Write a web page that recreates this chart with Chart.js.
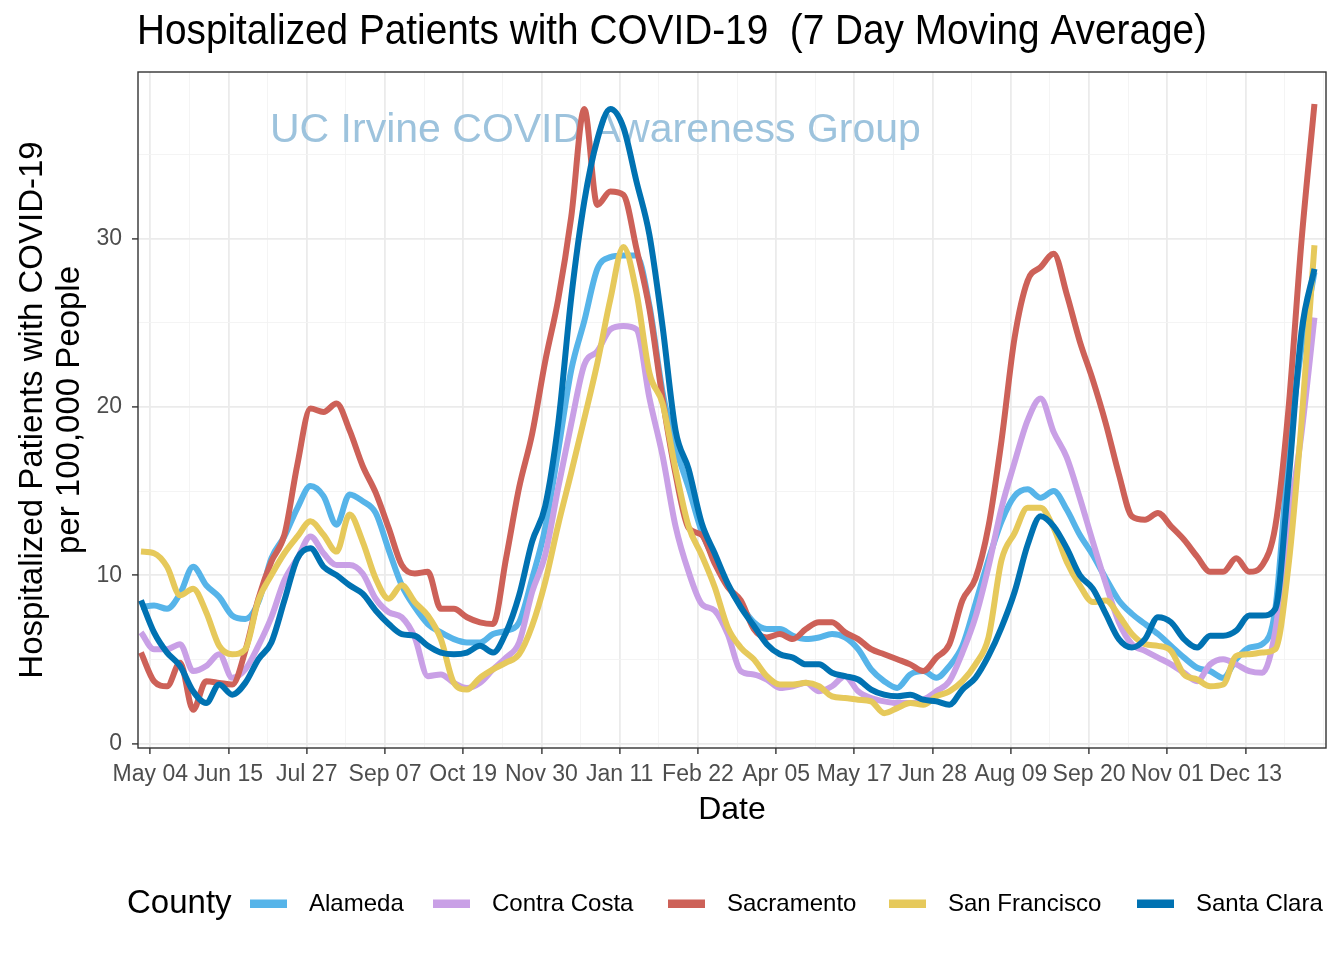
<!DOCTYPE html>
<html><head><meta charset="utf-8">
<script src="https://cdn.jsdelivr.net/npm/chart.js@4/dist/chart.umd.min.js"></script>
<style>html,body{margin:0;padding:0;background:#fff;}#wrap{width:1344px;height:960px;}</style>
</head><body><div id="wrap"><canvas id="c" width="1344" height="960"></canvas></div>
<script>
// days since 2020-05-04 (weekly samples)
const dayOffsets = [-5,2,9,16,23,30,37,44,51,58,65,72,79,86,93,100,107,114,121,128,135,142,149,156,163,170,177,184,191,198,205,212,219,226,233,240,247,254,261,268,275,282,289,296,303,310,317,324,331,338,345,352,359,366,373,380,387,394,401,408,415,422,429,436,443,450,457,464,471,478,485,492,499,506,513,520,527,534,541,548,555,562,569,576,583,590,597,604,611,618,625];

const counties = ["Alameda","Contra Costa","Sacramento","San Francisco","Santa Clara"];

const alameda = [8.1,8.2,8.0,8.9,10.5,9.4,8.7,7.6,7.4,8.4,11.0,12.3,14.0,15.3,14.7,13.0,14.8,14.4,13.7,11.5,9.4,8.1,7.1,6.6,6.2,
 6.0,6.0,6.5,6.7,7.2,9.8,12.8,17.4,22.2,25.1,28.2,28.9,29.0,29.0,26.0,20.9,17.6,15.2,12.6,10.9,9.4,8.2,7.2,6.8,
 6.8,6.4,6.2,6.3,6.5,6.3,5.6,4.4,3.7,3.3,4.1,4.3,3.9,4.6,5.8,8.3,10.9,13.2,14.7,15.1,14.6,15.0,13.9,12.4,11.2,
 9.8,8.5,7.7,7.1,6.5,5.8,5.1,4.5,4.3,3.9,5.0,5.7,5.9,8.0,17.0,23.5,28.0];

const contraCosta = [6.6,5.6,5.6,5.9,4.3,4.6,5.3,3.9,4.4,5.8,7.5,9.7,11.0,12.3,11.3,10.6,10.6,10.1,8.6,7.8,7.5,6.3,4.0,4.1,3.6,
 3.3,3.6,4.4,5.1,6.0,9.0,11.2,15.2,19.0,22.5,23.3,24.6,24.8,24.6,20.5,17.1,12.9,10.2,8.3,7.9,6.5,4.3,4.1,3.8,
 3.3,3.4,3.6,3.1,3.4,4.0,3.1,2.7,2.5,2.4,2.4,2.6,3.1,3.7,5.4,7.5,10.5,14.0,16.7,19.2,20.5,18.5,17.0,14.6,12.0,
 9.5,7.2,5.9,5.5,5.1,4.7,4.2,3.7,4.7,5.0,4.7,4.3,4.2,6.7,13.0,18.4,25.3];

const sacramento = [5.4,3.7,3.4,4.8,2.0,3.7,3.6,3.5,5.5,8.6,10.8,12.4,16.6,19.9,19.7,20.2,18.6,16.5,14.9,12.8,10.6,10.1,10.2,8.0,8.0,
 7.5,7.2,7.1,11.0,15.2,18.4,22.7,26.4,31.3,37.7,32.0,32.8,32.6,29.4,25.8,20.5,16.0,12.8,12.4,10.7,9.3,8.5,6.8,6.3,
 6.5,6.2,6.8,7.2,7.2,6.6,6.2,5.6,5.3,5.0,4.7,4.3,5.1,5.9,8.5,9.8,12.9,18.0,24.1,27.5,28.3,29.1,26.7,23.9,21.6,
 19.0,16.0,13.5,13.3,13.7,12.9,12.1,11.1,10.2,10.2,11.0,10.2,10.6,12.9,19.8,29.8,38.0];

const sanFrancisco = [11.4,11.3,10.5,8.8,9.2,7.8,5.8,5.3,5.6,8.5,10.0,11.3,12.3,13.2,12.4,11.4,13.6,12.0,9.8,8.6,9.4,8.4,7.6,6.2,3.6,
 3.2,3.9,4.4,4.8,5.3,7.0,9.6,13.0,16.1,19.3,22.6,26.4,29.5,26.8,22.0,20.2,16.3,12.9,11.2,9.3,6.9,5.7,5.0,4.0,
 3.5,3.5,3.6,3.4,2.8,2.7,2.6,2.5,1.8,2.1,2.4,2.3,2.8,3.1,3.7,4.7,6.3,10.9,12.5,14.0,14.0,12.8,10.8,9.4,8.4,
 8.5,7.6,6.5,5.9,5.8,5.5,4.1,3.8,3.4,3.5,5.2,5.3,5.4,5.6,10.5,19.0,29.6];

const santaClara = [8.5,6.6,5.4,4.6,3.1,2.4,3.5,2.9,3.6,5.0,6.0,8.5,11.0,11.6,10.5,10.0,9.4,8.9,7.9,7.1,6.5,6.4,5.8,5.4,5.3,
 5.4,5.8,5.4,6.6,8.8,12.0,14.1,19.0,26.5,32.2,35.9,37.7,36.6,33.4,30.2,24.8,18.6,16.3,13.1,11.3,9.5,8.1,7.0,5.9,
 5.3,5.1,4.7,4.7,4.2,4.0,3.8,3.2,2.9,2.8,2.9,2.6,2.5,2.3,3.2,3.9,5.2,6.9,9.0,11.8,13.5,12.9,11.6,10.0,9.2,
 7.7,6.2,5.7,6.2,7.5,7.2,6.2,5.7,6.4,6.4,6.7,7.6,7.6,8.0,15.5,24.4,28.2];

const colors = ["#56B4E9","#C9A0E6","#CD6158","#E6C95B","#0072B2"];

const tickDays = [0,42,84,126,168,210,252,294,336,378,420,462,504,546,588];
const tickLabels = ["May 04","Jun 15","Jul 27","Sep 07","Oct 19","Nov 30","Jan 11","Feb 22","Apr 05","May 17","Jun 28","Aug 09","Sep 20","Nov 01","Dec 13"];
const minorDays = [21,63,105,147,189,231,273,315,357,399,441,483,525,567,609,630];
const yMajor = [0,10,20,30];
const yMinor = [5,15,25,35];

const FONT = "'Liberation Sans', Arial, Helvetica, sans-serif";
Chart.defaults.font.family = FONT;

const seriesList = [alameda, contraCosta, sacramento, sanFrancisco, santaClara];
const datasets = counties.map((name, i) => ({
  label: name,
  data: dayOffsets.map((d, j) => ({x: d, y: seriesList[i][j]})),
  borderColor: colors[i],
  backgroundColor: colors[i],
  borderWidth: 6,
  pointRadius: 0,
  cubicInterpolationMode: 'monotone',
  borderJoinStyle: 'round',
  order: counties.length - i
}));

function isMajorX(v){ return tickDays.indexOf(v) >= 0; }
function isMajorY(v){ return yMajor.indexOf(v) >= 0; }

function drawScaledText(ctx, text, x, y, font, width, align){
  ctx.save();
  ctx.font = font;
  const w = ctx.measureText(text).width;
  const sx = width ? width / w : 1;
  ctx.translate(x, y);
  ctx.scale(sx, 1);
  ctx.textAlign = align || 'left';
  ctx.fillText(text, 0, 0);
  ctx.restore();
}

const decor = {
  id: 'decor',
  beforeDatasetsDraw(chart){
    const ctx = chart.ctx;
    const xs = chart.scales.x, ys = chart.scales.y;
    ctx.save();
    ctx.fillStyle = '#9DC3DD';
    ctx.font = '41px ' + FONT;
    ctx.textAlign = 'center';
    ctx.textBaseline = 'middle';
    ctx.fillText('UC Irvine COVID Awareness Group', xs.getPixelForValue(239), ys.getPixelForValue(36.4));
    ctx.restore();
  },
  afterDatasetsDraw(chart){
    const ctx = chart.ctx;
    const a = chart.chartArea;
    ctx.save();
    ctx.strokeStyle = '#333333';
    ctx.lineWidth = 1.4;
    ctx.strokeRect(a.left, a.top, a.right - a.left, a.bottom - a.top);
    ctx.restore();
  },
  afterDraw(chart){
    const ctx = chart.ctx;
    const a = chart.chartArea;
    ctx.save();
    ctx.fillStyle = '#000';
    ctx.textBaseline = 'middle';
    drawScaledText(ctx, 'Hospitalized Patients with COVID-19  (7 Day Moving Average)', 137, 32, '43px ' + FONT, 1070, 'left');
    ctx.font = '32px ' + FONT;
    ctx.textAlign = 'center';
    ctx.fillText('Date', (a.left + a.right) / 2, 810);
    ctx.save();
    ctx.translate(33, (a.top + a.bottom) / 2);
    ctx.rotate(-Math.PI / 2);
    ctx.font = '33px ' + FONT;
    ctx.textAlign = 'center';
    ctx.fillText('Hospitalized Patients with COVID-19', 0, 0);
    ctx.restore();
    ctx.save();
    ctx.translate(70, (a.top + a.bottom) / 2);
    ctx.rotate(-Math.PI / 2);
    ctx.font = '33px ' + FONT;
    ctx.textAlign = 'center';
    ctx.fillText('per 100,000 People', 0, 0);
    ctx.restore();
    const ly = 904;
    ctx.font = '33px ' + FONT;
    ctx.textAlign = 'left';
    ctx.fillText('County', 127, ly);
    const swatchX = [250, 433, 668, 889, 1137];
    ctx.font = '24px ' + FONT;
    counties.forEach((name, i) => {
      ctx.fillStyle = colors[i];
      ctx.fillRect(swatchX[i], ly - 4.5, 37, 8.5);
      ctx.fillStyle = '#000';
      ctx.fillText(name, swatchX[i] + 59, ly);
    });
    ctx.restore();
  }
};

new Chart(document.getElementById('c'), {
  type: 'line',
  data: { datasets },
  options: {
    responsive: false,
    animation: false,
    devicePixelRatio: 1,
    layout: { padding: { top: 72, right: 18, left: 0, bottom: 0 } },
    plugins: { legend: { display: false }, tooltip: { enabled: false }, title: { display: false } },
    scales: {
      x: {
        type: 'linear',
        min: -6.6, max: 631.2,
        afterBuildTicks(s){ s.ticks = tickDays.concat(minorDays).sort((p,q)=>p-q).map(v => ({value: v})); },
        afterFit(s){ s.height = 212; },
        ticks: {
          autoSkip: false, maxRotation: 0, minRotation: 0,
          color: '#4d4d4d', font: { size: 23 }, padding: 7,
          callback(v){ const i = tickDays.indexOf(v); return i >= 0 ? tickLabels[i] : ''; }
        },
        grid: {
          color: c => isMajorX(c.tick.value) ? '#ebebeb' : '#f3f3f3',
          lineWidth: c => isMajorX(c.tick.value) ? 1.8 : 0.9,
          tickColor: c => isMajorX(c.tick.value) ? '#333333' : 'rgba(0,0,0,0)',
          tickLength: 6, tickWidth: 1.4
        },
        border: { display: false }
      },
      y: {
        type: 'linear',
        min: -0.27, max: 39.9,
        afterBuildTicks(s){ s.ticks = yMajor.concat(yMinor).sort((p,q)=>p-q).map(v => ({value: v})); },
        afterFit(s){ s.width = 138; },
        ticks: {
          color: '#4d4d4d', font: { size: 23 }, padding: 10,
          callback(v){ return isMajorY(v) ? String(v) : ''; }
        },
        grid: {
          color: c => isMajorY(c.tick.value) ? '#ebebeb' : '#f3f3f3',
          lineWidth: c => isMajorY(c.tick.value) ? 1.8 : 0.9,
          tickColor: c => isMajorY(c.tick.value) ? '#333333' : 'rgba(0,0,0,0)',
          tickLength: 6, tickWidth: 1.4
        },
        border: { display: false }
      }
    }
  },
  plugins: [decor]
});
</script></body></html>
